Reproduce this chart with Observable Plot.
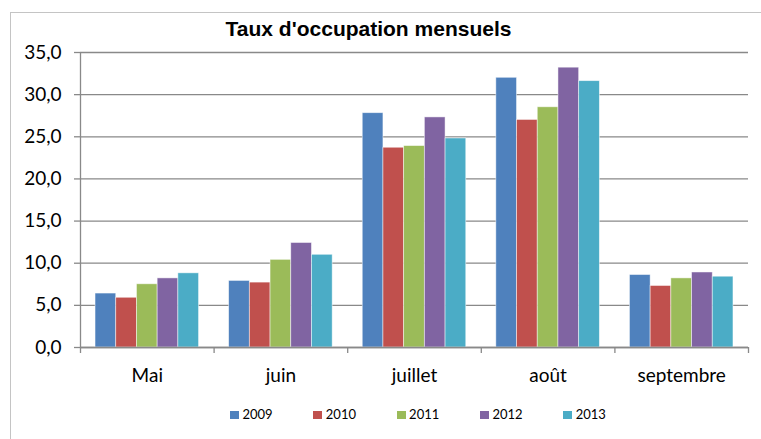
<!DOCTYPE html>
<html><head><meta charset="utf-8">
<script src="https://cdn.jsdelivr.net/npm/d3@7"></script>
<script src="https://cdn.jsdelivr.net/npm/@observablehq/plot@0.6"></script>
<style>
body{margin:0;background:#fff;}
#wrap{position:relative;width:761px;height:439px;overflow:hidden;background:#fff;}
#wrap svg{position:absolute;left:0;top:0;}
#border{position:absolute;left:10px;top:12px;width:800px;height:500px;border-left:1.5px solid #c4c4c4;border-top:1.5px solid #c4c4c4;}
#title{position:absolute;left:0;width:737px;top:16.5px;line-height:24px;text-align:center;font:bold 21px "Liberation Sans",Arial,sans-serif;color:#000;}
#legend{position:absolute;left:230px;top:407px;display:flex;font:13px Lato,sans-serif;line-height:15px;color:#000;}
.item{width:83.3px;display:flex;align-items:center;}
.sw{width:9px;height:8px;margin-right:3.5px;}
</style>
</head><body>
<div id="wrap"><div id="border"></div></div>
<script>
const months = ["Mai", "juin", "juillet", "août", "septembre"];
const years = ["2009", "2010", "2011", "2012", "2013"];
const colors = ["#4F81BD", "#C0504D", "#9BBB59", "#8064A2", "#4BACC6"];
const v2009 = [6.4, 7.9, 27.8, 32.0, 8.6];
const v2010 = [5.9, 7.7, 23.7, 27.0, 7.3];
const v2011 = [7.5, 10.4, 23.9, 28.5, 8.2];
const v2012 = [8.2, 12.4, 27.3, 33.2, 8.9];
const v2013 = [8.8, 11.0, 24.8, 31.6, 8.4];
const yTicks = [0, 5, 10, 15, 20, 25, 30, 35];
const title = "Taux d'occupation mensuels";

const series = [v2009, v2010, v2011, v2012, v2013];
const data = [];
series.forEach((vals, yi) => vals.forEach((v, mi) => data.push({month: months[mi], mi, year: years[yi], yi, value: v})));

const w = 0.155;               // bar width as share of a month band
const pad = (1 - years.length * w) / 2;
const gray = "#898989";

const chart = Plot.plot({
  width: 761, height: 439,
  marginLeft: 80, marginRight: 13, marginTop: 52, marginBottom: 92,
  style: {fontFamily: "Lato, sans-serif", fontSize: "19px", background: "transparent"},
  x: {domain: [0, months.length], label: null},
  y: {domain: [0, 35], label: null},
  color: {domain: years, range: colors},
  marks: [
    Plot.gridY(yTicks, {stroke: gray, strokeOpacity: 1, strokeWidth: 1.3}),
    Plot.rectY(data, {
      x1: d => d.mi + pad + d.yi * w,
      x2: d => d.mi + pad + (d.yi + 1) * w,
      y: "value", fill: "year",
      stroke: "#fff", strokeOpacity: 0.6, strokeWidth: 0.8
    }),
    Plot.ruleX([0], {stroke: gray, strokeWidth: 1.3}),
    Plot.ruleY([0], {stroke: gray, strokeWidth: 1.3}),
    Plot.axisY(yTicks, {tickSize: 6, tickPadding: 13, stroke: gray, strokeWidth: 1.3, fill: "#000",
      fontSize: 19, label: null, tickFormat: d => d.toFixed(1).replace(".", ",")}),
    Plot.axisX(d3.range(months.length + 1), {tickSize: 6, stroke: gray, strokeWidth: 1.3, label: null, tickFormat: () => ""}),
    Plot.axisX(months.map((m, i) => i + 0.5), {tickSize: 0, tickPadding: 20.5, fill: "#000", fontSize: 19, label: null,
      tickFormat: d => months[Math.floor(d)]})
  ]
});
const wrap = document.getElementById("wrap");
wrap.appendChild(chart);

const t = document.createElement("div");
t.id = "title"; t.textContent = title;
wrap.appendChild(t);

const lg = document.createElement("div");
lg.id = "legend";
years.forEach((y, i) => {
  const it = document.createElement("div"); it.className = "item";
  const sw = document.createElement("span"); sw.className = "sw"; sw.style.background = colors[i];
  const tx = document.createElement("span"); tx.textContent = y;
  it.appendChild(sw); it.appendChild(tx); lg.appendChild(it);
});
wrap.appendChild(lg);
</script>
</body></html>
